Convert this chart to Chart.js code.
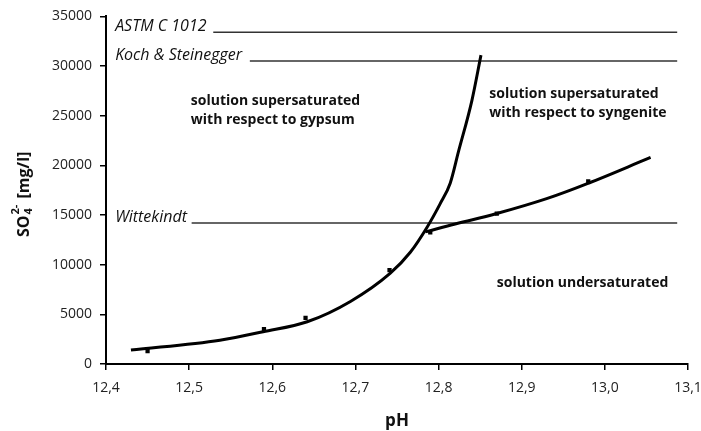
<!DOCTYPE html>
<html>
<head>
<meta charset="utf-8">
<script src="https://cdn.jsdelivr.net/npm/chart.js@4"></script>
<style>
  html, body { margin: 0; padding: 0; background: #fff; }
  #wrap { width: 701px; height: 431px; }
</style>
</head>
<body>
<div id="wrap"><canvas id="chart"></canvas></div>
<script>
// gypsum solubility curve (pH vs sulfate)
const gypsumPH = [12.430, 12.537, 12.589, 12.642, 12.694, 12.742, 12.766, 12.786, 12.802, 12.814, 12.824, 12.840, 12.851];
const gypsumSO4 = [1400, 2400, 3250, 4250, 6300, 9150, 11250, 13750, 16150, 18200, 21400, 26500, 31100];

// syngenite solubility curve
const syngenitePH = [12.784, 12.820, 12.870, 12.930, 12.980, 13.055];
const syngeniteSO4 = [13300, 14100, 15150, 16650, 18200, 20800];

// measured points
const measuredPH = [12.45, 12.59, 12.64, 12.741, 12.79, 12.87, 12.98];
const measuredSO4 = [1300, 3500, 4650, 9450, 13250, 15150, 18400];

// limit values drawn as horizontal lines
const limitNames = ["ASTM C 1012", "Koch & Steinegger", "Wittekindt"];
const limitSO4 = [33400, 30500, 14200];
const limitStartPH = [12.529, 12.573, 12.503];
const limitEndPH = 13.087;

const xMin = 12.4, xMax = 13.1;
const yTicks = [0, 5000, 10000, 15000, 20000, 25000, 30000, 35000];

const toPoints = (xs, ys) => xs.map((x, i) => ({ x, y: ys[i] }));

const datasets = [
  {
    data: toPoints(gypsumPH, gypsumSO4),
    borderColor: "#000",
    borderWidth: 3,
    pointRadius: 0,
    cubicInterpolationMode: "monotone"
  },
  {
    data: toPoints(syngenitePH, syngeniteSO4),
    borderColor: "#000",
    borderWidth: 3,
    pointRadius: 0,
    tension: 0.4
  },
  {
    data: toPoints(measuredPH, measuredSO4),
    showLine: false,
    pointStyle: "rect",
    pointRadius: 3,
    backgroundColor: "#000",
    borderColor: "#000",
    borderWidth: 0
  }
]

limitSO4.forEach((v, i) => {
  datasets.push({
    data: [{ x: limitStartPH[i], y: v }, { x: limitEndPH, y: v }],
    borderColor: "#333",
    borderWidth: 1.5,
    pointRadius: 0
  })
})

const FONT = "'Open Sans', sans-serif"

const textPlugin = {
  id: "annotations",
  afterDatasetsDraw(chart) {
    const { ctx, scales: { x, y } } = chart
    ctx.save()
    ctx.fillStyle = "#111"
    ctx.textBaseline = "middle"

    // labels of the limit lines
    ctx.font = "italic 16px " + FONT
    ctx.textAlign = "left"
    limitNames.forEach((name, i) => {
      ctx.fillText(name, x.getPixelForValue(12.411), y.getPixelForValue(limitSO4[i]) - 6)
    })

    // region labels
    ctx.font = "bold 14px " + FONT
    const region = (lines, px, py) => {
      lines.forEach((t, i) => ctx.fillText(t, x.getPixelForValue(px), y.getPixelForValue(py) + i * 19))
    }
    region(["solution supersaturated", "with respect to gypsum"], 12.502, 26500)
    region(["solution supersaturated", "with respect to syngenite"], 12.861, 27200)
    region(["solution undersaturated"], 12.870, 8130)

    // y axis title: SO4 2- [mg/l]
    ctx.translate(24, 237)
    ctx.rotate(-Math.PI / 2)
    ctx.font = "bold 16px " + FONT
    ctx.fillText("SO", 0, 0)
    let w = ctx.measureText("SO").width
    ctx.font = "bold 11px " + FONT
    ctx.fillText("4", w + 1, 5)
    ctx.fillText("2-", w + 1, -8)
    w += ctx.measureText("2-").width + 3
    ctx.font = "bold 16px " + FONT
    ctx.fillText(" [mg/l]", w, 0)
    ctx.restore()
  }
}

new Chart(document.getElementById("chart").getContext("2d"), {
  type: "line",
  data: { datasets },
  plugins: [textPlugin],
  options: {
    responsive: true,
    maintainAspectRatio: false,
    animation: false,
    layout: { padding: { top: 15, right: 0, left: 0, bottom: 0 } },
    plugins: {
      legend: { display: false },
      tooltip: { enabled: false }
    },
    scales: {
      x: {
        type: "linear",
        min: xMin,
        max: xMax,
        afterFit: (scale) => {
          scale.height = 67
          scale.paddingLeft = 0
          scale.paddingRight = 13
        },
        border: { color: "#000", width: 2 },
        grid: { drawOnChartArea: false, drawTicks: true, tickLength: 6, color: "#000", lineWidth: 1.5 },
        ticks: {
          stepSize: 0.1,
          padding: 10,
          color: "#222",
          font: { family: FONT, size: 14 },
          callback: (value) => Number(value).toFixed(1).replace(".", ",")
        },
        title: {
          display: true,
          text: "pH",
          color: "#111",
          font: { family: FONT, size: 17, weight: "bold" },
          padding: { top: 4, bottom: 0 }
        }
      },
      y: {
        min: 0,
        max: 35000,
        afterFit: (scale) => { scale.width = 106 },
        afterBuildTicks: (scale) => { scale.ticks = yTicks.map((value) => ({ value })) },
        border: { color: "#000", width: 2 },
        grid: { drawOnChartArea: false, drawTicks: true, tickLength: 6, color: "#000", lineWidth: 1.5 },
        ticks: {
          padding: 8,
          color: "#222",
          font: { family: FONT, size: 14 },
          callback: (value) => String(value)
        }
      }
    }
  }
})
</script>
</body>
</html>
